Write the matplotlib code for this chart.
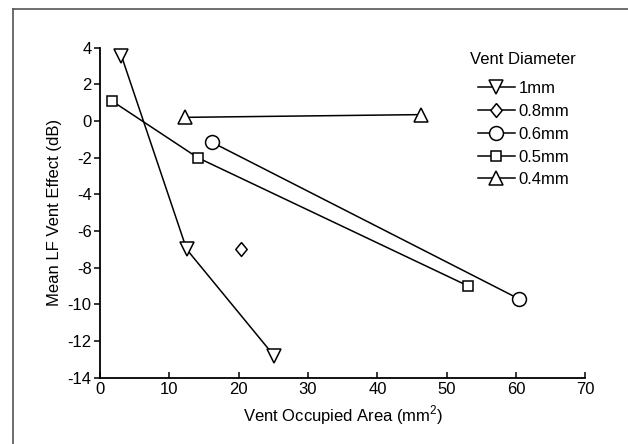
import matplotlib
matplotlib.use("Agg")
import matplotlib.pyplot as plt
from matplotlib.lines import Line2D

plt.rcParams['font.family'] = ['Liberation Sans', 'DejaVu Sans']
plt.rcParams['mathtext.fontset'] = 'custom'
plt.rcParams['mathtext.rm'] = 'Liberation Sans'
plt.rcParams['axes.unicode_minus'] = False

# data
x_1mm = [3.1, 12.5, 25.1]
y_1mm = [3.55, -7.0, -12.8]
x_08mm = [20.3]
y_08mm = [-7.0]
x_06mm = [16.1, 60.4]
y_06mm = [-1.15, -9.7]
x_05mm = [1.7, 14.1, 53.1]
y_05mm = [1.1, -2.0, -9.0]
x_04mm = [12.2, 46.3]
y_04mm = [0.2, 0.35]

labels = ['1mm', '0.8mm', '0.6mm', '0.5mm', '0.4mm']
xticks = [0, 10, 20, 30, 40, 50, 60, 70]
yticks = [4, 2, 0, -2, -4, -6, -8, -10, -12, -14]

fs = 12
diamond = [(0, 1), (0.82, 0), (0, -1), (-0.82, 0), (0, 1)]

fig = plt.figure(figsize=(6.28, 4.44), dpi=100)
ax = fig.add_axes([0.1592, 0.1493, 0.7731, 0.7433])

style = dict(color='black', lw=1.1, mfc='white', mec='black', mew=1.1)
ax.plot(x_1mm, y_1mm, marker='v', ms=10, label=labels[0], **style)
ax.plot(x_08mm, y_08mm, marker=diamond, ms=10, label=labels[1], **style)
ax.plot(x_06mm, y_06mm, marker='o', ms=10, label=labels[2], **style)
ax.plot(x_05mm, y_05mm, marker='s', ms=7.8, label=labels[3], **style)
ax.plot(x_04mm, y_04mm, marker='^', ms=10, label=labels[4], **style)

ax.set_xlim(0, 70)
ax.set_ylim(-14, 4)
ax.set_xticks(xticks)
ax.set_yticks(yticks)
ax.spines['top'].set_visible(False)
ax.spines['right'].set_visible(False)
ax.spines['left'].set_linewidth(1.3)
ax.spines['bottom'].set_linewidth(1.3)
ax.tick_params(axis='x', direction='in', length=4, width=1.1, labelsize=fs, pad=3)
ax.tick_params(axis='y', direction='out', length=4, width=1.1, labelsize=fs, pad=2)
ax.set_xlabel('Vent Occupied Area (mm$^2$)', fontsize=fs, labelpad=5)
ax.set_ylabel('Mean LF Vent Effect (dB)', fontsize=fs, labelpad=4)

leg = fig.legend(frameon=False, fontsize=fs, loc='upper left',
                 bbox_to_anchor=(478/628, 1-81/444), handlelength=2.2,
                 handletextpad=0.25, labelspacing=0.47, borderaxespad=0,
                 borderpad=0)
fig.text(523/628, 1-60/444, 'Vent Diameter', fontsize=fs,
         ha='center', va='center')

# grey frame around the figure (top and left edges visible)
fig.add_artist(Line2D([13/628, 1.0], [1-9/444, 1-9/444], color='#555555',
                      lw=1.2, transform=fig.transFigure))
fig.add_artist(Line2D([13/628, 13/628], [0.0, 1-9/444], color='#555555',
                      lw=1.2, transform=fig.transFigure))

fig.savefig('out.png', dpi=100)
